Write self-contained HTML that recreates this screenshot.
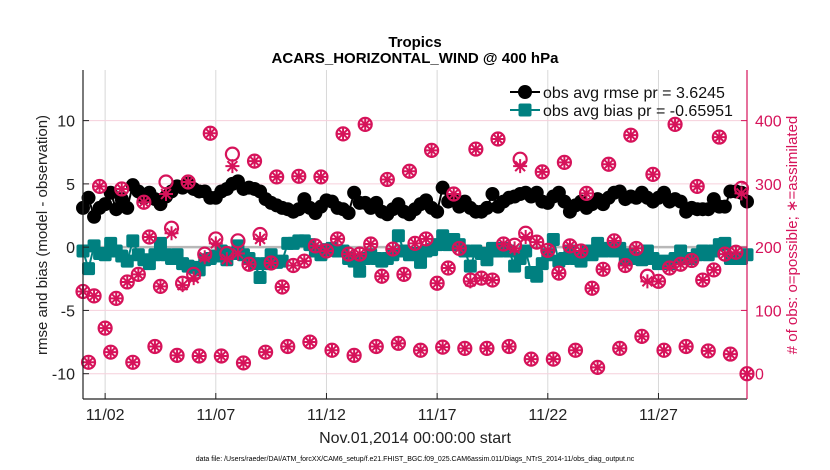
<!DOCTYPE html>
<html><head><meta charset="utf-8"><style>
body{margin:0;background:#fff;}
svg{display:block;font-family:"Liberation Sans",Arial,sans-serif;}
</style></head><body>
<svg id="chart" width="830" height="470" viewBox="0 0 830 470" xmlns="http://www.w3.org/2000/svg">
<rect x="0" y="0" width="830" height="470" fill="#fff"/>
<g id="grid"></g>
<g id="marks"></g>
<g id="axes"></g>
<text x="415" y="47" text-anchor="middle" font-size="15" font-weight="bold" fill="#000">Tropics</text>
<text x="415" y="63" text-anchor="middle" font-size="15" font-weight="bold" fill="#000">ACARS_HORIZONTAL_WIND @ 400 hPa</text>
<text transform="translate(47,235) rotate(-90)" text-anchor="middle" font-size="15" fill="#222">rmse and bias (model - observation)</text>
<text transform="translate(797,235) rotate(-90)" text-anchor="middle" font-size="15" fill="#d6135a"># of obs: o=possible; ∗=assimilated</text>
<text x="415" y="443" text-anchor="middle" font-size="16" fill="#222">Nov.01,2014 00:00:00 start</text>
<text x="415" y="461" text-anchor="middle" font-size="7" fill="#000">data file: /Users/raeder/DAI/ATM_forcXX/CAM6_setup/f.e21.FHIST_BGC.f09_025.CAM6assim.011/Diags_NTrS_2014-11/obs_diag_output.nc</text>
<g id="legend"></g>
</svg>
<script>
const tickDays = [1,6,11,16,21,26];
const tickLabels = ["11/02","11/07","11/12","11/17","11/22","11/27"];
const leftTicks = [10,5,0,-5,-10];
const rightTicks = [0,100,200,300,400];
const rmse = [3.1,3.9,2.4,3.1,3.4,4.3,3.0,3.8,3.1,4.9,4.4,3.9,4.3,3.8,3.4,4.0,4.4,4.8,4.7,5.0,4.6,4.4,4.4,3.9,3.9,4.4,4.6,5.0,5.2,4.6,4.7,
4.6,4.4,3.8,3.5,3.3,3.1,3.0,2.8,3.0,3.8,3.1,2.7,3.2,3.7,3.6,3.1,3.0,2.7,4.3,3.5,3.5,3.1,3.5,2.8,2.6,3.0,3.4,2.8,2.6,3.0,
3.4,3.7,3.1,2.8,4.7,3.6,3.7,3.2,3.6,3.1,2.8,2.8,3.1,4.2,3.2,3.6,3.9,4.0,4.2,4.3,4.0,4.3,3.6,3.5,4.0,4.3,3.6,2.8,3.3,
3.6,3.1,3.4,3.8,3.4,3.9,4.3,4.4,3.8,4.0,3.9,4.3,3.9,3.6,3.9,4.3,3.6,3.8,3.6,2.8,3.1,3.0,3.0,3.0,3.8,3.2,3.2,4.4,4.4,4.3,3.6];
const bias = [-0.3,-1.7,0.1,-0.5,-0.6,0.3,-0.3,-0.7,-1.1,0.5,-0.6,-1.0,-1.3,-0.6,0.3,-0.6,-0.9,-0.6,-1.3,-1.5,-1.6,-1.8,-1.0,-0.9,-0.7,-0.3,-1.0,-0.5,0.1,-0.6,-0.9,
-1.3,-2.4,-1.3,-0.6,-1.2,-1.1,0.3,0.3,0.5,0.5,0.2,-0.3,-0.6,-0.2,-0.1,-0.3,-0.3,-0.9,-1.1,-1.9,-0.9,-0.6,-0.9,-1.1,-0.9,-0.6,0.9,-0.3,-0.6,-0.5,
-1.2,-0.3,-0.2,0.2,0.9,0.2,0.6,0.2,-0.3,-1.5,-0.3,-0.5,-1.0,-0.1,-0.3,-0.1,-0.3,-1.5,-0.9,-0.3,-2.0,-2.3,-1.3,-0.6,0.6,-1.1,-0.9,-0.3,-0.9,
-1.1,-0.3,-0.6,0.3,-0.3,-0.1,-0.3,-0.1,-0.9,-0.6,-0.9,-1.0,-0.3,-0.9,-1.3,-1.1,-1.3,-0.9,-0.3,-0.9,-0.9,-0.6,-0.3,-0.6,-0.3,0.2,0.3,-0.9,-0.9,-0.9,-0.6];
const nPossible = [130,18,123,296,72,34,119,292,145,18,157,271,216,43,138,303,230,29,143,303,157,28,189,380,213,28,190,347,210,17,173,
336,220,34,175,311,137,43,171,312,178,50,202,311,194,37,213,379,189,29,189,394,205,43,154,307,197,48,157,320,206,
37,213,353,143,42,167,284,198,40,148,355,151,40,148,371,205,43,203,339,222,23,208,319,195,23,159,334,202,37,
194,285,135,10,165,331,210,40,171,377,198,59,154,315,146,37,167,394,173,43,179,296,148,36,164,374,189,31,192,293,0];
const nAssim = [130,18,123,296,72,34,119,292,145,18,157,271,216,43,138,284,222,29,140,303,151,28,184,380,206,28,181,328,190,17,173,
336,213,34,175,311,137,43,171,312,178,50,202,311,194,37,213,379,189,29,189,394,205,43,154,307,197,48,157,320,206,
37,213,353,143,42,167,284,198,40,146,355,151,40,148,371,205,43,198,328,216,23,208,319,195,23,159,334,202,37,
194,285,135,10,165,331,210,40,171,377,198,59,146,315,146,37,167,394,173,43,179,296,148,36,164,374,189,31,192,285,0];

const X0=83,X1=747,Y0=70,Y1=399;
const xs=d=>X0+(d/30)*(X1-X0);
const ys=v=>Y0+(14-v)/26*(Y1-Y0);
const yr=c=>ys(c/20-10);
const NS="http://www.w3.org/2000/svg";
function mk(tag,attrs,parent){const e=document.createElementNS(NS,tag);for(const k in attrs)e.setAttribute(k,attrs[k]);parent.appendChild(e);return e;}
const grid=document.getElementById('grid'),marks=document.getElementById('marks'),axes=document.getElementById('axes'),legend=document.getElementById('legend');
const RED="#d6135a",TEAL="#008080";

tickDays.forEach((d,i)=>{
  const l=mk('line',{x1:xs(d),x2:xs(d),y1:Y0,y2:Y1,stroke:"#d8d8d8","stroke-width":1},grid);
  
  
  const t=mk('text',{x:xs(d),y:420,"text-anchor":"middle","font-size":16,fill:"#222"},axes);
  t.textContent=tickLabels[i];
  
  
  const tk=mk('line',{x1:xs(d),x2:xs(d),y1:Y1,y2:Y1-6,stroke:"#222"},axes);
  
  
});
leftTicks.forEach(v=>{
  if(v!==0){const g=mk('line',{x1:X0,x2:X1,y1:ys(v),y2:ys(v),stroke:"#f6d0dc","stroke-width":1},grid);
  
  }
  const t=mk('text',{x:75,y:ys(v)+6,"text-anchor":"end","font-size":16,fill:"#222"},axes);
  t.textContent=v;
  
  
  const tk=mk('line',{x1:X0,x2:X0+6,y1:ys(v),y2:ys(v),stroke:"#222"},axes);
  
  
});
const zl=mk('line',{x1:X0,x2:X1,y1:ys(0),y2:ys(0),stroke:"#b8b8b8","stroke-width":2.5},grid);


rightTicks.forEach(c=>{
  const t=mk('text',{x:755,y:yr(c)+6,"text-anchor":"start","font-size":16,fill:RED},axes);
  t.textContent=c;
  
  
  const tk=mk('line',{x1:X1-6,x2:X1,y1:yr(c),y2:yr(c),stroke:RED},axes);
  
  
});
const la=mk('line',{x1:X0,x2:X0,y1:Y0,y2:Y1,stroke:"#222","stroke-width":1.2},axes);


const ba=mk('line',{x1:X0,x2:X1,y1:Y1,y2:Y1,stroke:"#222","stroke-width":1.2},axes);


const ra=mk('line',{x1:X1,x2:X1,y1:Y0,y2:Y1,stroke:RED,"stroke-width":1.2},axes);



const td=i=>i*0.25;
const bp=mk('polyline',{points:bias.map((v,i)=>xs(td(i))+","+ys(v)).join(" "),fill:"none",stroke:TEAL,"stroke-width":2},marks);


bias.forEach((v,i)=>{
  const r=mk('rect',{x:xs(td(i))-6.5,y:ys(v)-6.5,width:13,height:13,rx:2,fill:TEAL},marks);
  
  
});
const rp=mk('polyline',{points:rmse.map((v,i)=>xs(td(i))+","+ys(v)).join(" "),fill:"none",stroke:"#000","stroke-width":2},marks);


rmse.forEach((v,i)=>{
  const c=mk('circle',{cx:xs(td(i)),cy:ys(v),r:7,fill:"#000"},marks);
  
  
});
function star(cx,cy,r,parent){
  let d="";for(let k=0;k<4;k++){const a=k*Math.PI/4;d+=`M${cx-r*Math.cos(a)},${cy-r*Math.sin(a)}L${cx+r*Math.cos(a)},${cy+r*Math.sin(a)}`;}
  return mk('path',{d:d,stroke:RED,"stroke-width":2,fill:"none"},parent);
}
nPossible.forEach((c,i)=>{
  const o=mk('circle',{cx:xs(td(i)),cy:yr(c),r:6.5,fill:"none",stroke:RED,"stroke-width":2.2},marks);
  
  
});
nAssim.forEach((c,i)=>{
  const s=star(xs(td(i)),yr(c),7,marks);
  
  
});

const lg1=mk('line',{x1:510,x2:540,y1:92,y2:92,stroke:"#000","stroke-width":2},legend);


const lc=mk('circle',{cx:525,cy:92,r:7,fill:"#000"},legend);


const lt1=mk('text',{x:543,y:98,"font-size":16,fill:"#111"},legend);
lt1.textContent="obs avg rmse pr = 3.6245";


const lg2=mk('line',{x1:510,x2:540,y1:110,y2:110,stroke:TEAL,"stroke-width":2},legend);


const lr=mk('rect',{x:518.5,y:103.5,width:13,height:13,rx:2,fill:TEAL},legend);


const lt2=mk('text',{x:543,y:116,"font-size":16,fill:"#111"},legend);
lt2.textContent="obs avg bias pr = -0.65951";


</script>
</body></html>
